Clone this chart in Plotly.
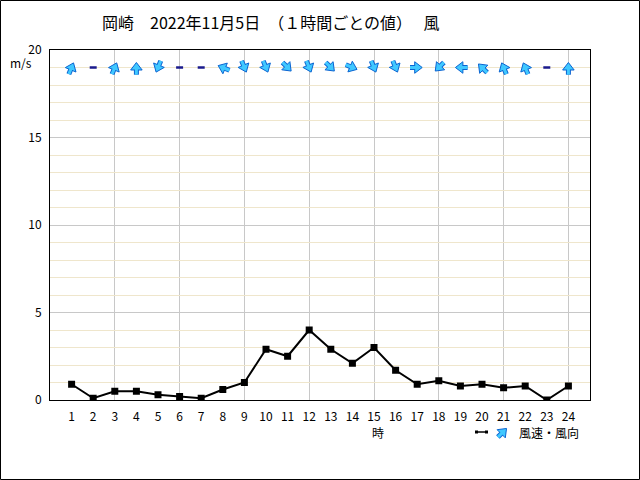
import plotly.graph_objects as go

hours = list(range(1, 25))
speed = [0.9, 0.1, 0.5, 0.5, 0.3, 0.2, 0.1, 0.6, 1.0, 2.9, 2.5, 4.0,
         2.9, 2.1, 3.0, 1.7, 0.9, 1.1, 0.8, 0.9, 0.7, 0.8, 0.0, 0.8]
direction = ["南南西", "静穏", "南南西", "南", "北北東", "静穏", "静穏", "東南東",
             "北北西", "北北西", "北西", "北北西", "北西", "西北西", "北北西", "北北西",
             "西", "北東", "東", "南東", "南南東", "南南東", "静穏", "南"]
compass16 = ["北", "北北東", "北東", "東北東", "東", "東南東", "南東", "南南東",
             "南", "南南西", "南西", "西南西", "西", "西北西", "北西", "北北西"]
y_ticks = [0, 5, 10, 15, 20]
arrow_row = 19
legend_dir = "南西"   # legend icon arrow (points north-east)

ARROW_FILL = "#40c8ff"
ARROW_EDGE = "#0a64d2"

# paper = 540 x 400 px, from page x 50..590, y 50..450
def px(x):
    return (x - 50) / 540

def py(y):
    return (450 - y) / 400


def arrow_traces(xs, ys, angles, xaxis="x", yaxis="y"):
    common = dict(x=xs, y=ys, mode="markers", showlegend=False, hoverinfo="skip",
                  xaxis=xaxis, yaxis=yaxis)
    return [
        go.Scatter(**common, marker=dict(symbol="line-ns", size=6, angle=angles, standoff=3,
                                         line=dict(color=ARROW_EDGE, width=5))),
        go.Scatter(**common, marker=dict(symbol="triangle-up", size=10, angle=angles,
                                         color=ARROW_FILL, line=dict(color=ARROW_EDGE, width=1))),
        go.Scatter(**common, marker=dict(symbol="line-ns", size=6, angle=angles, standoff=3,
                                         line=dict(color=ARROW_FILL, width=3))),
    ]


fig = go.Figure()

fig.add_trace(go.Scatter(x=hours, y=speed, mode="lines+markers",
                         line=dict(color="black", width=2),
                         marker=dict(symbol="square", size=7, color="black"),
                         showlegend=False, hoverinfo="skip"))

ax, angs, cx = [], [], []
for h, d in zip(hours, direction):
    if d == "静穏":
        cx.append(h)
    else:
        ax.append(h)
        angs.append((compass16.index(d) * 22.5 + 180) % 360)

fig.add_trace(go.Scatter(x=cx, y=[arrow_row] * len(cx), mode="markers",
                         marker=dict(symbol="line-ew", size=5,
                                     line=dict(color="#1a1a8c", width=2.5)),
                         showlegend=False, hoverinfo="skip"))
for t in arrow_traces(ax, [arrow_row] * len(ax), angs):
    fig.add_trace(t)

# legend icon arrow on a tiny helper axis
leg_ang = (compass16.index(legend_dir) * 22.5 + 180) % 360
for t in arrow_traces([0.5], [0.5], [leg_ang], xaxis="x2", yaxis="y2"):
    fig.add_trace(t)

hidden = dict(range=[0, 1], visible=False, fixedrange=True)

fig.update_layout(
    width=640, height=480,
    margin=dict(l=50, r=50, t=50, b=30),
    paper_bgcolor="white", plot_bgcolor="white",
    font=dict(family="Noto Sans CJK JP", size=12, color="black"),
    xaxis=dict(range=[0, 25], tickmode="array", tickvals=hours,
               ticktext=[str(h) for h in hours], showgrid=False, zeroline=False,
               ticks="", showline=True, linecolor="black", linewidth=1, mirror=True,
               ticklabelstandoff=6, anchor="y",
               minor=dict(tick0=0, dtick=3, showgrid=True, gridcolor="#c8c8c8", gridwidth=1, ticks=""),
               fixedrange=True),
    yaxis=dict(range=[0, 20], domain=[py(400), 1], tickmode="array", tickvals=y_ticks,
               ticktext=[str(v) for v in y_ticks], showgrid=True, gridcolor="#c8c8c8",
               zeroline=False, ticks="", showline=True, linecolor="black", linewidth=1,
               mirror=True, ticklabelstandoff=5, anchor="x",
               minor=dict(tick0=0, dtick=1, showgrid=True, gridcolor="#efe6cc", gridwidth=1, ticks=""),
               fixedrange=True),
    xaxis2=dict(hidden, domain=[px(496), px(510)], anchor="y2"),
    yaxis2=dict(hidden, domain=[py(439), py(425)], anchor="x2"),
    shapes=[
        dict(type="rect", xref="paper", yref="paper", x0=px(0.5), x1=px(639.5),
             y0=py(479.5), y1=py(0.5), line=dict(color="black", width=1)),
        # legend icon: line with two dots
        dict(type="line", xref="paper", yref="paper", x0=px(476), x1=px(487),
             y0=py(432), y1=py(432), line=dict(color="black", width=1.5)),
        dict(type="rect", xref="paper", yref="paper", x0=px(475), x1=px(478),
             y0=py(433.5), y1=py(430.5), line=dict(width=0), fillcolor="black"),
        dict(type="rect", xref="paper", yref="paper", x0=px(485), x1=px(488),
             y0=py(433.5), y1=py(430.5), line=dict(width=0), fillcolor="black"),
    ],
    annotations=[
        dict(text="岡崎　2022年11月5日　（１時間ごとの値）　 風", xref="paper", yref="paper",
             x=px(100), y=py(22), xanchor="left", yanchor="middle",
             showarrow=False, font=dict(size=16)),
        dict(text="m/s", xref="paper", yref="paper", x=px(8), y=py(62),
             xanchor="left", yanchor="middle", showarrow=False, font=dict(size=12)),
        dict(text="時", xref="paper", yref="paper", x=px(378), y=py(432),
             xanchor="center", yanchor="middle", showarrow=False, font=dict(size=12)),
        dict(text="風速・風向", xref="paper", yref="paper", x=px(517), y=py(432),
             xanchor="left", yanchor="middle", showarrow=False, font=dict(size=12)),
    ],
)

fig.write_html("out.html", config={"displayModeBar": False},
               post_script="document.body.style.margin='0';document.body.style.overflow='hidden';")
